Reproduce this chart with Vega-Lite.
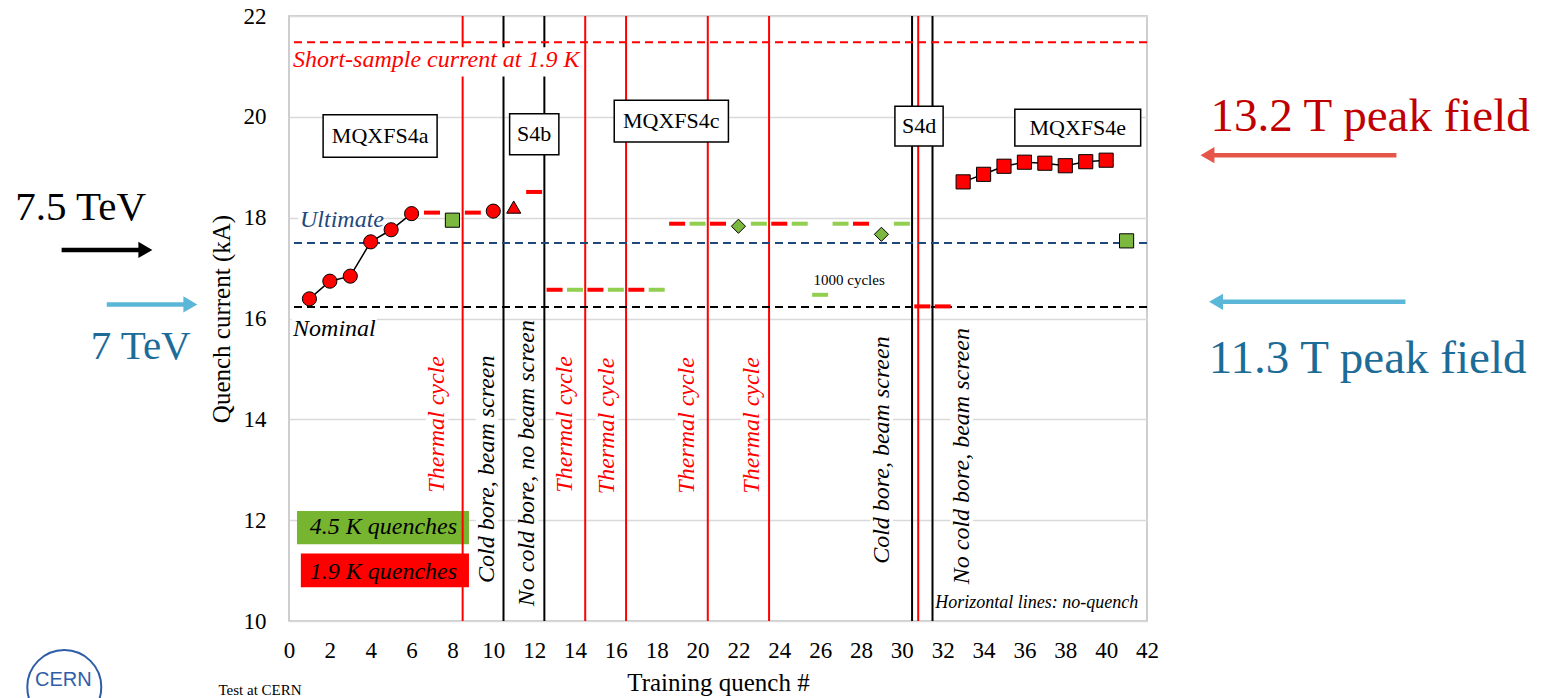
{
  "$schema": "https://vega.github.io/schema/vega-lite/v6.json",
  "width": 858,
  "height": 605,
  "autosize": {"type": "none"},
  "padding": {"left": 289, "top": 16, "right": 399, "bottom": 77},
  "background": "white",
  "config": {
    "view": {"stroke": "#BFBFBF", "strokeWidth": 1.5},
    "font": "Liberation Serif",
    "axis": {
      "labelFont": "Liberation Serif", "labelFontSize": 23, "labelColor": "#000000",
      "titleFont": "Liberation Serif", "titleFontSize": 25, "titleFontWeight": "normal", "titleColor": "#000000",
      "ticks": false, "domain": false, "labelOverlap": false
    },
    "axisX": {"grid": false, "labelPadding": 18, "titlePadding": 8, "labelFlush": false},
    "axisY": {"grid": true, "gridColor": "#D9D9D9", "gridWidth": 1.5, "labelPadding": 23, "titlePadding": 9, "labelFlush": false}
  },
  "resolve": {"scale": {"color": "independent", "shape": "independent"}},
  "datasets": {
    "legendBoxes": [
      {"label": "4.5 K quenches", "temp": "4.5 K", "x1": 0.39, "x2": 8.81, "y1": 12.18, "y2": 11.52, "xc": 4.62, "yc": 11.86},
      {"label": "1.9 K quenches", "temp": "1.9 K", "x1": 0.58, "x2": 8.81, "y1": 11.34, "y2": 10.67, "xc": 4.62, "yc": 10.97}
    ],
    "events": [
      {"q": 8.5, "kind": "Thermal cycle"},
      {"q": 10.5, "kind": "Configuration"},
      {"q": 12.5, "kind": "Configuration"},
      {"q": 14.5, "kind": "Thermal cycle"},
      {"q": 16.5, "kind": "Thermal cycle"},
      {"q": 20.5, "kind": "Thermal cycle"},
      {"q": 23.5, "kind": "Thermal cycle"},
      {"q": 30.5, "kind": "Configuration"},
      {"q": 30.8, "kind": "Thermal cycle"},
      {"q": 31.5, "kind": "Configuration"}
    ],
    "backgrounds": [
      {"x1": 0.1, "x2": 13.95, "y1": 21.38, "y2": 20.8},
      {"x1": 0.45, "x2": 4.5, "y1": 18.2, "y2": 17.72},
      {"x1": 0.12, "x2": 4.3, "y1": 16.05, "y2": 15.55},
      {"x1": 6.7, "x2": 7.8, "y1": 15.25, "y2": 12.55},
      {"x1": 12.97, "x2": 14.07, "y1": 15.25, "y2": 12.55},
      {"x1": 15.01, "x2": 16.11, "y1": 15.22, "y2": 12.52},
      {"x1": 18.92, "x2": 20.02, "y1": 15.23, "y2": 12.53},
      {"x1": 22.13, "x2": 23.23, "y1": 15.23, "y2": 12.53},
      {"x1": 9.14, "x2": 10.24, "y1": 15.25, "y2": 10.77},
      {"x1": 11.1, "x2": 12.2, "y1": 15.95, "y2": 10.3},
      {"x1": 28.47, "x2": 29.57, "y1": 15.6, "y2": 11.17},
      {"x1": 32.38, "x2": 33.48, "y1": 15.8, "y2": 10.72}
    ],
    "refs": [
      {"level": "Short-sample", "kA": 21.48},
      {"level": "Ultimate", "kA": 17.5},
      {"level": "Nominal", "kA": 16.23}
    ],
    "refLabels": [
      {"text": "Short-sample current at 1.9 K", "level": "Short-sample", "x": 0.2, "y": 21.12},
      {"text": "Ultimate", "level": "Ultimate", "x": 0.54, "y": 17.96},
      {"text": "Nominal", "level": "Nominal", "x": 0.2, "y": 15.8}
    ],
    "magnetBoxes": [
      {"magnet": "MQXFS4a", "x1": 1.67, "x2": 7.25, "y1": 20.04, "y2": 19.2, "xc": 4.46, "yc": 19.62},
      {"magnet": "S4b", "x1": 10.8, "x2": 13.21, "y1": 20.06, "y2": 19.25, "xc": 12.0, "yc": 19.65},
      {"magnet": "MQXFS4c", "x1": 15.92, "x2": 21.51, "y1": 20.33, "y2": 19.5, "xc": 18.71, "yc": 19.92},
      {"magnet": "S4d", "x1": 29.66, "x2": 32.02, "y1": 20.21, "y2": 19.42, "xc": 30.84, "yc": 19.81},
      {"magnet": "MQXFS4e", "x1": 35.53, "x2": 41.69, "y1": 20.15, "y2": 19.42, "xc": 38.61, "yc": 19.78}
    ],
    "rotLabels": [
      {"text": "Thermal cycle", "kind": "Thermal cycle", "x": 7.25, "y": 13.9},
      {"text": "Cold bore, beam screen", "kind": "Configuration", "x": 9.69, "y": 13.01},
      {"text": "No cold bore, no beam screen", "kind": "Configuration", "x": 11.65, "y": 13.13},
      {"text": "Thermal cycle", "kind": "Thermal cycle", "x": 13.52, "y": 13.9},
      {"text": "Thermal cycle", "kind": "Thermal cycle", "x": 15.56, "y": 13.87},
      {"text": "Thermal cycle", "kind": "Thermal cycle", "x": 19.47, "y": 13.88},
      {"text": "Thermal cycle", "kind": "Thermal cycle", "x": 22.68, "y": 13.88},
      {"text": "Cold bore, beam screen", "kind": "Configuration", "x": 29.02, "y": 13.39},
      {"text": "No cold bore, beam screen", "kind": "Configuration", "x": 32.93, "y": 13.27}
    ],
    "smallLabels": [
      {"text": "1000  cycles", "x": 27.42, "y": 16.76}
    ],
    "noteLabels": [
      {"text": "Horizontal lines:  no-quench", "x": 31.64, "y": 10.36}
    ],
    "noQuench": [
      {"q": 7, "kA": 18.1, "temp": "1.9 K"},
      {"q": 9, "kA": 18.1, "temp": "1.9 K"},
      {"q": 12, "kA": 18.51, "temp": "1.9 K"},
      {"q": 13, "kA": 16.57, "temp": "1.9 K"},
      {"q": 14, "kA": 16.57, "temp": "4.5 K"},
      {"q": 15, "kA": 16.57, "temp": "1.9 K"},
      {"q": 16, "kA": 16.57, "temp": "4.5 K"},
      {"q": 17, "kA": 16.57, "temp": "1.9 K"},
      {"q": 18, "kA": 16.57, "temp": "4.5 K"},
      {"q": 19, "kA": 17.88, "temp": "1.9 K"},
      {"q": 20, "kA": 17.88, "temp": "4.5 K"},
      {"q": 21, "kA": 17.88, "temp": "1.9 K"},
      {"q": 23, "kA": 17.88, "temp": "4.5 K"},
      {"q": 24, "kA": 17.88, "temp": "1.9 K"},
      {"q": 25, "kA": 17.88, "temp": "4.5 K"},
      {"q": 26, "kA": 16.47, "temp": "4.5 K"},
      {"q": 27, "kA": 17.88, "temp": "4.5 K"},
      {"q": 28, "kA": 17.88, "temp": "1.9 K"},
      {"q": 30, "kA": 17.88, "temp": "4.5 K"},
      {"q": 31, "kA": 16.24, "temp": "1.9 K"},
      {"q": 32, "kA": 16.24, "temp": "1.9 K"}
    ],
    "quenches": [
      {"q": 1, "kA": 16.39, "temp": "1.9 K", "marker": "circle", "run": "S4a"},
      {"q": 2, "kA": 16.74, "temp": "1.9 K", "marker": "circle", "run": "S4a"},
      {"q": 3, "kA": 16.84, "temp": "1.9 K", "marker": "circle", "run": "S4a"},
      {"q": 4, "kA": 17.52, "temp": "1.9 K", "marker": "circle", "run": "S4a"},
      {"q": 5, "kA": 17.76, "temp": "1.9 K", "marker": "circle", "run": "S4a"},
      {"q": 6, "kA": 18.08, "temp": "1.9 K", "marker": "circle", "run": "S4a"},
      {"q": 8, "kA": 17.95, "temp": "4.5 K", "marker": "square", "run": null},
      {"q": 10, "kA": 18.13, "temp": "1.9 K", "marker": "circle", "run": null},
      {"q": 11, "kA": 18.21, "temp": "1.9 K", "marker": "triangle-up", "run": null},
      {"q": 22, "kA": 17.83, "temp": "4.5 K", "marker": "diamond", "run": null},
      {"q": 29, "kA": 17.67, "temp": "4.5 K", "marker": "diamond", "run": null},
      {"q": 33, "kA": 18.71, "temp": "1.9 K", "marker": "square", "run": "S4e"},
      {"q": 34, "kA": 18.86, "temp": "1.9 K", "marker": "square", "run": "S4e"},
      {"q": 35, "kA": 19.02, "temp": "1.9 K", "marker": "square", "run": "S4e"},
      {"q": 36, "kA": 19.1, "temp": "1.9 K", "marker": "square", "run": "S4e"},
      {"q": 37, "kA": 19.08, "temp": "1.9 K", "marker": "square", "run": "S4e"},
      {"q": 38, "kA": 19.03, "temp": "1.9 K", "marker": "square", "run": "S4e"},
      {"q": 39, "kA": 19.11, "temp": "1.9 K", "marker": "square", "run": "S4e"},
      {"q": 40, "kA": 19.14, "temp": "1.9 K", "marker": "square", "run": "S4e"},
      {"q": 41, "kA": 17.54, "temp": "4.5 K", "marker": "square", "run": null}
    ],
    "arrows": [
      {"arrow": "7.5 TeV", "tail": -11.13, "head": -7.03, "kA": 17.36, "dir": "right"},
      {"arrow": "7 TeV", "tail": -8.92, "head": -4.83, "kA": 16.28, "dir": "right"},
      {"arrow": "13.2 T", "tail": 54.21, "head": 44.96, "kA": 19.24, "dir": "left"},
      {"arrow": "11.3 T", "tail": 54.65, "head": 45.38, "kA": 16.33, "dir": "left"}
    ],
    "energyLabels": [
      {"text": "7.5 TeV", "x": -10.2, "y": 18.19},
      {"text": "7 TeV", "x": -7.26, "y": 15.43}
    ],
    "fieldLabels": [
      {"text": "13.2 T peak field", "x": 52.92, "y": 20.0},
      {"text": "11.3 T peak field", "x": 52.8, "y": 15.2}
    ],
    "footer": [
      {"text": "Test at CERN", "x": -1.42, "y": 8.64}
    ],
    "logo": [
      {"text": "CERN", "x": -11.05, "y": 8.82, "cx": -11.0, "cy": 8.69}
    ]
  },
  "layer": [
    {
      "data": {"name": "legendBoxes"},
      "mark": {"type": "rect"},
      "encoding": {
        "x": {"field": "x1", "type": "quantitative", "scale": {"domain": [0, 42], "nice": false, "zero": false},
              "axis": {"title": "Training quench #", "values": [0,2,4,6,8,10,12,14,16,18,20,22,24,26,28,30,32,34,36,38,40,42]}},
        "x2": {"field": "x2"},
        "y": {"field": "y1", "type": "quantitative", "scale": {"domain": [10, 22], "nice": false, "zero": false},
              "axis": {"title": "Quench current (kA)", "values": [10,12,14,16,18,20,22]}},
        "y2": {"field": "y2"},
        "color": {"field": "temp", "type": "nominal", "scale": {"domain": ["1.9 K", "4.5 K"], "range": ["#FF0000", "#77B530"]}, "legend": null}
      }
    },
    {
      "data": {"name": "events"},
      "mark": {"type": "rule", "strokeWidth": 2},
      "encoding": {
        "x": {"field": "q", "type": "quantitative", "scale": {"domain": [0, 42], "nice": false, "zero": false}},
        "color": {"field": "kind", "type": "nominal", "scale": {"domain": ["Thermal cycle", "Configuration"], "range": ["#FF0000", "#000000"]}, "legend": null}
      }
    },
    {
      "data": {"name": "backgrounds"},
      "mark": {"type": "rect", "fill": "#FFFFFF"},
      "encoding": {
        "x": {"field": "x1", "type": "quantitative", "scale": {"domain": [0, 42], "nice": false, "zero": false}},
        "x2": {"field": "x2"},
        "y": {"field": "y1", "type": "quantitative", "scale": {"domain": [10, 22], "nice": false, "zero": false}},
        "y2": {"field": "y2"}
      }
    },
    {
      "data": {"name": "refs"},
      "mark": {"type": "rule", "strokeWidth": 2, "strokeDash": [8, 5]},
      "encoding": {
        "y": {"field": "kA", "type": "quantitative", "scale": {"domain": [10, 22], "nice": false, "zero": false}},
        "color": {"field": "level", "type": "nominal", "scale": {"domain": ["Short-sample", "Ultimate", "Nominal"], "range": ["#FF0000", "#1F497D", "#000000"]}, "legend": null}
      }
    },
    {
      "data": {"name": "magnetBoxes"},
      "mark": {"type": "rect", "fill": "#FFFFFF", "stroke": "#000000", "strokeWidth": 1.5},
      "encoding": {
        "x": {"field": "x1", "type": "quantitative", "scale": {"domain": [0, 42], "nice": false, "zero": false}},
        "x2": {"field": "x2"},
        "y": {"field": "y1", "type": "quantitative", "scale": {"domain": [10, 22], "nice": false, "zero": false}},
        "y2": {"field": "y2"}
      }
    },
    {
      "data": {"name": "magnetBoxes"},
      "mark": {"type": "text", "font": "Liberation Serif", "fontSize": 22, "color": "#000000", "align": "center", "baseline": "middle"},
      "encoding": {
        "x": {"field": "xc", "type": "quantitative", "scale": {"domain": [0, 42], "nice": false, "zero": false}},
        "y": {"field": "yc", "type": "quantitative", "scale": {"domain": [10, 22], "nice": false, "zero": false}},
        "text": {"field": "magnet"}
      }
    },
    {
      "data": {"name": "rotLabels"},
      "mark": {"type": "text", "font": "Liberation Serif", "fontSize": 24, "fontStyle": "italic", "angle": 270, "align": "center", "baseline": "middle"},
      "encoding": {
        "x": {"field": "x", "type": "quantitative", "scale": {"domain": [0, 42], "nice": false, "zero": false}},
        "y": {"field": "y", "type": "quantitative", "scale": {"domain": [10, 22], "nice": false, "zero": false}},
        "text": {"field": "text"},
        "color": {"field": "kind", "type": "nominal", "scale": {"domain": ["Thermal cycle", "Configuration"], "range": ["#FF0000", "#000000"]}, "legend": null}
      }
    },
    {
      "data": {"name": "refLabels"},
      "mark": {"type": "text", "font": "Liberation Serif", "fontSize": 24, "fontStyle": "italic", "align": "left", "baseline": "middle"},
      "encoding": {
        "x": {"field": "x", "type": "quantitative", "scale": {"domain": [0, 42], "nice": false, "zero": false}},
        "y": {"field": "y", "type": "quantitative", "scale": {"domain": [10, 22], "nice": false, "zero": false}},
        "text": {"field": "text"},
        "color": {"field": "level", "type": "nominal", "scale": {"domain": ["Short-sample", "Ultimate", "Nominal"], "range": ["#FF0000", "#1F497D", "#000000"]}, "legend": null}
      }
    },
    {
      "data": {"name": "legendBoxes"},
      "mark": {"type": "text", "font": "Liberation Serif", "fontSize": 24, "fontStyle": "italic", "color": "#000000", "align": "center", "baseline": "middle"},
      "encoding": {
        "x": {"field": "xc", "type": "quantitative", "scale": {"domain": [0, 42], "nice": false, "zero": false}},
        "y": {"field": "yc", "type": "quantitative", "scale": {"domain": [10, 22], "nice": false, "zero": false}},
        "text": {"field": "label"}
      }
    },
    {
      "data": {"name": "smallLabels"},
      "mark": {"type": "text", "font": "Liberation Serif", "fontSize": 15, "color": "#000000", "align": "center", "baseline": "middle"},
      "encoding": {
        "x": {"field": "x", "type": "quantitative", "scale": {"domain": [0, 42], "nice": false, "zero": false}},
        "y": {"field": "y", "type": "quantitative", "scale": {"domain": [10, 22], "nice": false, "zero": false}},
        "text": {"field": "text"}
      }
    },
    {
      "data": {"name": "noteLabels"},
      "mark": {"type": "text", "font": "Liberation Serif", "fontSize": 18, "fontStyle": "italic", "color": "#000000", "align": "left", "baseline": "middle"},
      "encoding": {
        "x": {"field": "x", "type": "quantitative", "scale": {"domain": [0, 42], "nice": false, "zero": false}},
        "y": {"field": "y", "type": "quantitative", "scale": {"domain": [10, 22], "nice": false, "zero": false}},
        "text": {"field": "text"}
      }
    },
    {
      "data": {"name": "quenches"},
      "transform": [{"filter": "isValid(datum.run)"}],
      "mark": {"type": "line", "color": "#000000", "strokeWidth": 1.5},
      "encoding": {
        "x": {"field": "q", "type": "quantitative", "scale": {"domain": [0, 42], "nice": false, "zero": false}},
        "y": {"field": "kA", "type": "quantitative", "scale": {"domain": [10, 22], "nice": false, "zero": false}},
        "detail": {"field": "run"}
      }
    },
    {
      "data": {"name": "noQuench"},
      "mark": {"type": "tick", "orient": "horizontal", "size": 16, "thickness": 4, "opacity": 1},
      "encoding": {
        "x": {"field": "q", "type": "quantitative", "scale": {"domain": [0, 42], "nice": false, "zero": false}},
        "y": {"field": "kA", "type": "quantitative", "scale": {"domain": [10, 22], "nice": false, "zero": false}},
        "color": {"field": "temp", "type": "nominal", "scale": {"domain": ["1.9 K", "4.5 K"], "range": ["#FF0000", "#92CF50"]}, "legend": null}
      }
    },
    {
      "data": {"name": "quenches"},
      "mark": {"type": "point", "filled": true, "size": 200, "stroke": "#000000", "strokeWidth": 1, "opacity": 1},
      "encoding": {
        "x": {"field": "q", "type": "quantitative", "scale": {"domain": [0, 42], "nice": false, "zero": false}},
        "y": {"field": "kA", "type": "quantitative", "scale": {"domain": [10, 22], "nice": false, "zero": false}},
        "color": {"field": "temp", "type": "nominal", "scale": {"domain": ["1.9 K", "4.5 K"], "range": ["#FF0000", "#7CB83E"]}, "legend": null},
        "shape": {"field": "marker", "type": "nominal", "scale": {"domain": ["circle", "square", "triangle-up", "diamond"], "range": ["circle", "square", "triangle-up", "diamond"]}, "legend": null}
      }
    },
    {
      "data": {"name": "arrows"},
      "mark": {"type": "rule", "strokeWidth": 4.5},
      "encoding": {
        "x": {"field": "tail", "type": "quantitative", "scale": {"domain": [0, 42], "nice": false, "zero": false}},
        "x2": {"field": "head"},
        "y": {"field": "kA", "type": "quantitative", "scale": {"domain": [10, 22], "nice": false, "zero": false}},
        "color": {"field": "arrow", "type": "nominal", "scale": {"domain": ["7.5 TeV", "7 TeV", "13.2 T", "11.3 T"], "range": ["#000000", "#5BB7D8", "#E5554A", "#5BB7D8"]}, "legend": null}
      }
    },
    {
      "data": {"name": "arrows"},
      "mark": {"type": "point", "filled": true, "size": 260, "opacity": 1},
      "encoding": {
        "x": {"field": "head", "type": "quantitative", "scale": {"domain": [0, 42], "nice": false, "zero": false}},
        "y": {"field": "kA", "type": "quantitative", "scale": {"domain": [10, 22], "nice": false, "zero": false}},
        "color": {"field": "arrow", "type": "nominal", "scale": {"domain": ["7.5 TeV", "7 TeV", "13.2 T", "11.3 T"], "range": ["#000000", "#5BB7D8", "#E5554A", "#5BB7D8"]}, "legend": null},
        "shape": {"field": "dir", "type": "nominal", "scale": {"domain": ["right", "left"], "range": ["triangle-right", "triangle-left"]}, "legend": null}
      }
    },
    {
      "data": {"name": "energyLabels"},
      "mark": {"type": "text", "font": "Liberation Serif", "fontSize": 41, "align": "center", "baseline": "middle"},
      "encoding": {
        "x": {"field": "x", "type": "quantitative", "scale": {"domain": [0, 42], "nice": false, "zero": false}},
        "y": {"field": "y", "type": "quantitative", "scale": {"domain": [10, 22], "nice": false, "zero": false}},
        "text": {"field": "text"},
        "color": {"field": "text", "type": "nominal", "scale": {"domain": ["7.5 TeV", "7 TeV"], "range": ["#000000", "#1D6C98"]}, "legend": null}
      }
    },
    {
      "data": {"name": "fieldLabels"},
      "mark": {"type": "text", "font": "Liberation Serif", "fontSize": 47, "align": "center", "baseline": "middle"},
      "encoding": {
        "x": {"field": "x", "type": "quantitative", "scale": {"domain": [0, 42], "nice": false, "zero": false}},
        "y": {"field": "y", "type": "quantitative", "scale": {"domain": [10, 22], "nice": false, "zero": false}},
        "text": {"field": "text"},
        "color": {"field": "text", "type": "nominal", "scale": {"domain": ["13.2 T peak field", "11.3 T peak field"], "range": ["#C00000", "#1D6C98"]}, "legend": null}
      }
    },
    {
      "data": {"name": "footer"},
      "mark": {"type": "text", "font": "Liberation Serif", "fontSize": 15, "color": "#000000", "align": "center", "baseline": "middle"},
      "encoding": {
        "x": {"field": "x", "type": "quantitative", "scale": {"domain": [0, 42], "nice": false, "zero": false}},
        "y": {"field": "y", "type": "quantitative", "scale": {"domain": [10, 22], "nice": false, "zero": false}},
        "text": {"field": "text"}
      }
    },
    {
      "data": {"name": "logo"},
      "mark": {"type": "text", "font": "Liberation Sans", "fontSize": 20, "color": "#2F5DA8", "align": "center", "baseline": "middle"},
      "encoding": {
        "x": {"field": "x", "type": "quantitative", "scale": {"domain": [0, 42], "nice": false, "zero": false}},
        "y": {"field": "y", "type": "quantitative", "scale": {"domain": [10, 22], "nice": false, "zero": false}},
        "text": {"field": "text"}
      }
    },
    {
      "data": {"name": "logo"},
      "mark": {"type": "point", "shape": "circle", "filled": false, "size": 5476, "stroke": "#2F5DA8", "strokeWidth": 2, "opacity": 1},
      "encoding": {
        "x": {"field": "cx", "type": "quantitative", "scale": {"domain": [0, 42], "nice": false, "zero": false}},
        "y": {"field": "cy", "type": "quantitative", "scale": {"domain": [10, 22], "nice": false, "zero": false}}
      }
    }
  ]
}
